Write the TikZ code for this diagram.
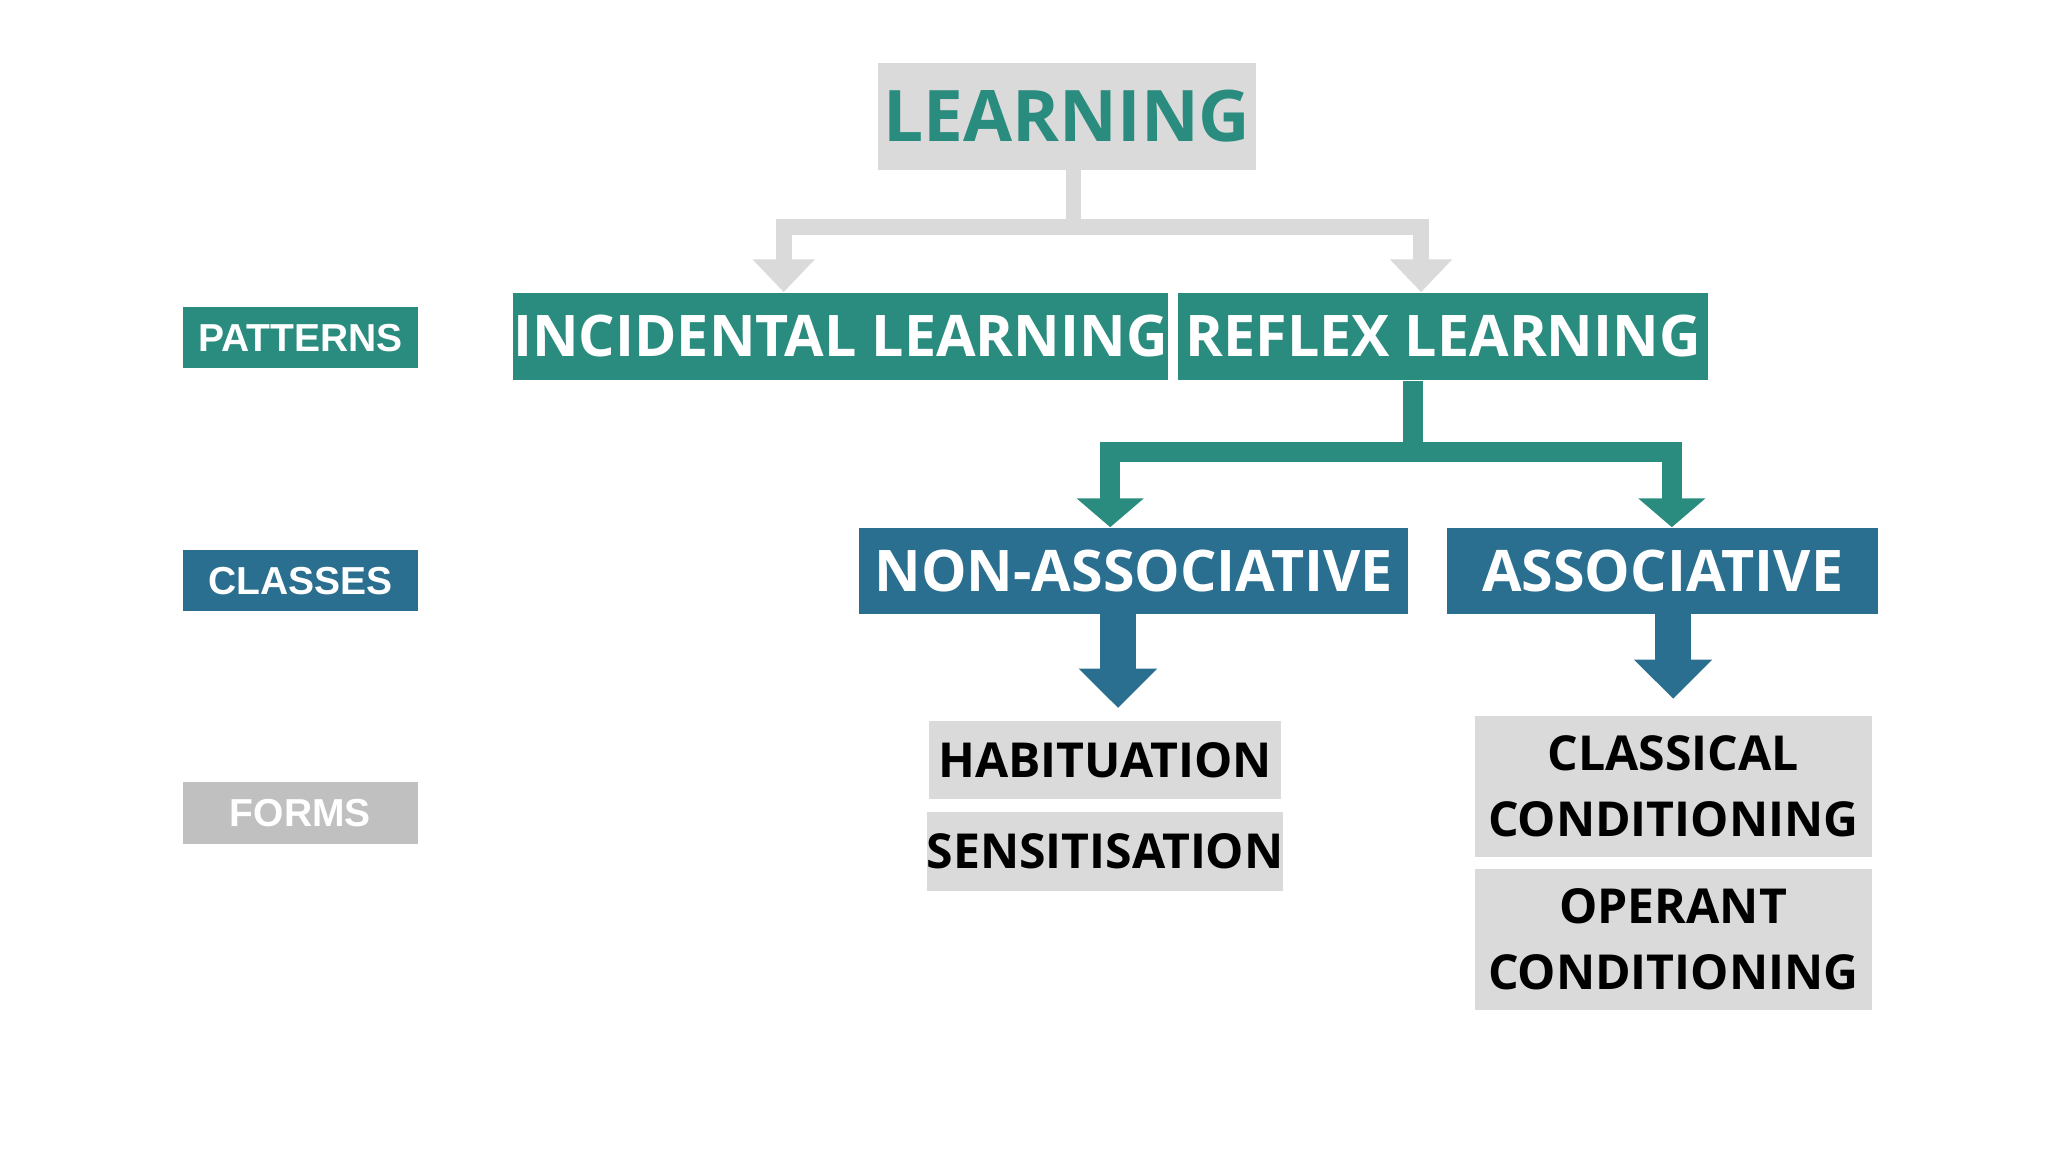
\documentclass[tikz,border=0pt]{standalone}
\usepackage{fontspec}
\setmainfont{Open Sans}
\newfontfamily\lab{Liberation Sans}
\usetikzlibrary{arrows.meta}
\definecolor{teal1}{HTML}{2A8C7E}
\definecolor{blue1}{HTML}{2A6F8F}
\definecolor{gray1}{HTML}{DADADA}
\definecolor{gray2}{HTML}{C0C0C0}
\begin{document}
\begin{tikzpicture}[x=0.02cm,y=-0.02cm,
  box/.style={inner sep=0pt,align=center,font=\bfseries},
  side/.style={box,minimum width=3.6cm,minimum height=0.94cm,text=white,font=\lab\bfseries\fontsize{17}{20}\selectfont},
  big/.style={box,text=white,fontsize26},
  fontsize26/.style={font=\bfseries\fontsize{25}{30}\selectfont},
  form/.style={box,fill=gray1,text=black,font=\bfseries\fontsize{21}{29}\selectfont}]
\useasboundingbox[fill=white] (0,0) rectangle (1568,882);
\node[box,fill=gray1,text=teal1,minimum width=5.8cm,minimum height=1.64cm,font=\bfseries\fontsize{31}{36}\selectfont] (learn) at (817,89) {LEARNING};
\node[side,fill=teal1] (pat) at (230,258.5) {PATTERNS};
\node[side,fill=blue1] (cla) at (230,444.5) {CLASSES};
\node[side,fill=gray2] (frm) at (230,622.5) {FORMS};
\node[big,fill=teal1,minimum width=9.18cm,minimum height=1.34cm] (inc) at (643.5,257.5) {INCIDENTAL LEARNING};
\node[big,fill=teal1,minimum width=8.12cm,minimum height=1.34cm] (ref) at (1105,257.5) {REFLEX LEARNING};
\node[big,fill=blue1,minimum width=8.4cm,minimum height=1.32cm] (non) at (868,437) {NON-ASSOCIATIVE};
\node[big,fill=blue1,minimum width=6.6cm,minimum height=1.32cm] (ass) at (1273,437) {ASSOCIATIVE};
\node[form,minimum width=5.4cm,minimum height=1.2cm] (hab) at (846,582) {HABITUATION};
\node[form,minimum width=5.4cm,minimum height=1.2cm] (sen) at (846,652) {SENSITISATION};
\node[form,minimum width=6.08cm,minimum height=2.16cm] (cc) at (1281,602) {CLASSICAL\\CONDITIONING};
\node[form,minimum width=6.08cm,minimum height=2.16cm] (oc) at (1281,719) {OPERANT\\CONDITIONING};
% gray connectors
\coordinate (g) at (822,174);
\draw[gray1,line width=0.24cm] (learn.south -| g) -- (g);
\draw[gray1,line width=0.24cm,-{Triangle[width=0.92cm,length=0.5cm]}] (g) -| (inc.north -| 600,0);
\draw[gray1,line width=0.24cm,-{Triangle[width=0.92cm,length=0.5cm]}] (g) -| (ref.north -| 1088,0);
% teal connectors
\coordinate (t) at (1082,346);
\draw[teal1,line width=0.3cm] (ref.south -| t) -- (t);
\draw[teal1,line width=0.3cm,-{Triangle[width=1cm,length=0.44cm]}] (t) -| (non.north -| 850,0);
\draw[teal1,line width=0.3cm,-{Triangle[width=1cm,length=0.44cm]}] (t) -| (ass.north -| 1280,0);
% blue arrows
\coordinate (b1) at (856,542);
\coordinate (b2) at (1281,535);
\draw[blue1,line width=0.56cm,-{Triangle[width=1.16cm,length=0.6cm]}] (non.south -| b1) -- (b1);
\draw[blue1,line width=0.56cm,-{Triangle[width=1.16cm,length=0.6cm]}] (ass.south -| b2) -- (b2);
\end{tikzpicture}
\end{document}
